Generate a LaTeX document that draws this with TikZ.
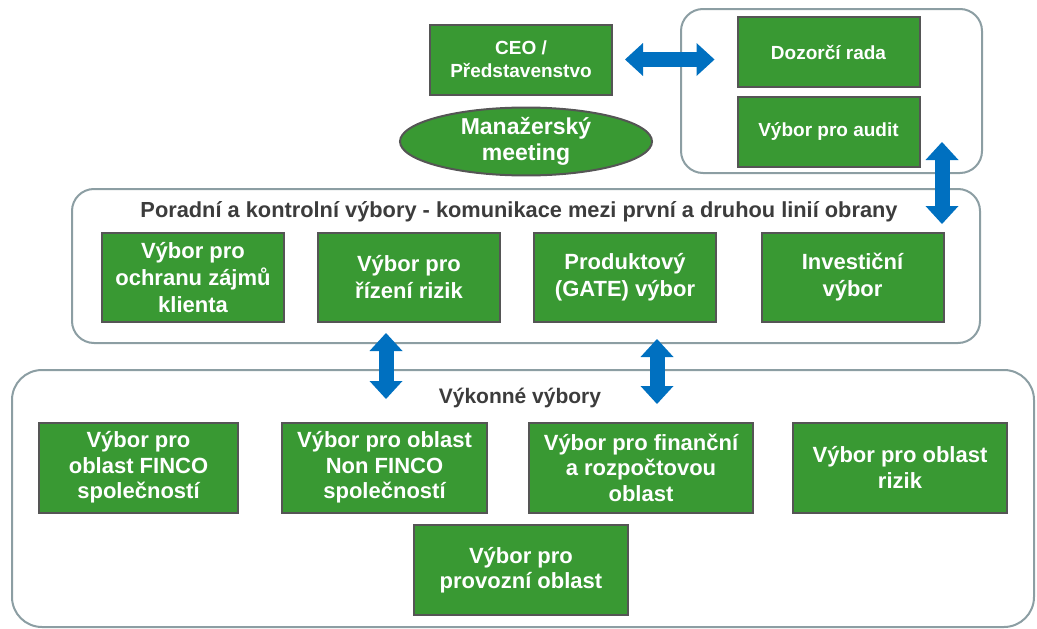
\documentclass[tikz,border=0pt]{standalone}
\usepackage{fontspec}
\setmainfont{Liberation Sans}
\usetikzlibrary{arrows.meta,shapes.geometric}
\definecolor{boxgreen}{RGB}{57,153,51}
\definecolor{boxedge}{RGB}{85,85,85}
\definecolor{grpedge}{RGB}{140,158,163}
\definecolor{arrblue}{RGB}{0,112,192}
\definecolor{titlegray}{RGB}{60,60,60}
\begin{document}
\begin{tikzpicture}[x=1pt,y=-1pt,
  gbox/.style={draw=boxedge, line width=2pt, fill=boxgreen, text=white, align=center, inner sep=0pt},
  topbox/.style={gbox, minimum width=182pt, minimum height=70pt, font=\fontsize{19}{23}\selectfont\bfseries},
  midbox/.style={gbox, minimum width=182pt, minimum height=89pt, font=\fontsize{22}{27}\selectfont\bfseries},
  lowbox/.style={gbox, minimum height=90pt, font=\fontsize{22}{25.5}\selectfont\bfseries},
  grp/.style={draw=grpedge, line width=2pt, inner sep=0pt},
  grptitle/.style={text=titlegray, inner sep=0pt, font=\fontsize{21}{25}\selectfont\bfseries},
  tipshape/.tip={Triangle[width=33pt,length=18pt,line width=0pt]},
  bigarrow/.style={draw=arrblue, line width=15pt, tipshape-tipshape}
]
\useasboundingbox (0,0) rectangle (1037,629);

% group frames
\node[grp, rounded corners=22pt, minimum width=301pt, minimum height=164pt] (rg) at (831.5,91) {};
\node[grp, rounded corners=22pt, minimum width=908pt, minimum height=154pt] (mg) at (526,266) {};
\node[grp, rounded corners=30pt, minimum width=1022pt, minimum height=257pt] (bg) at (523,498.5) {};

% top level
\node[topbox] (ceo) at (521,59.5) {CEO /\\Představenstvo};
\node[topbox] (dozorci) at (828.5,52) {Dozorčí rada};
\node[topbox] (audit) at (828.5,132) {Výbor pro audit};
\node[ellipse, draw=boxedge, line width=2pt, fill=boxgreen, text=white, align=center, inner sep=0pt,
      minimum width=252pt, minimum height=63pt, font=\fontsize{23}{26}\selectfont\bfseries] (meet) at (526,141.5) {Manažerský\\meeting};

% middle group
\node[grptitle, font=\fontsize{21.8}{25}\selectfont\bfseries] (mtitle) at (519,212) {Poradní a kontrolní výbory - komunikace mezi první a druhou linií obrany};
\node[midbox] (klient) at (193,277.5) {Výbor pro\\ochranu zájmů\\klienta};
\node[midbox] (rizeni) at (409,277.5) {Výbor pro\\řízení rizik};
\node[midbox] (gate) at (625,277.5) {Produktový\\(GATE) výbor};
\node[midbox] (invest) at (852.5,277.5) {Investiční\\výbor};

% bottom group
\node[grptitle] (btitle) at (520,398) {Výkonné výbory};
\node[lowbox, minimum width=199pt] (finco) at (138.5,467.5) {Výbor pro\\oblast FINCO\\společností};
\node[lowbox, minimum width=205pt] (nonfinco) at (384.5,467.5) {Výbor pro oblast\\Non FINCO\\společností};
\node[lowbox, minimum width=224pt] (financni) at (641,467.5) {Výbor pro finanční\\a rozpočtovou\\oblast};
\node[lowbox, minimum width=214pt] (rizik) at (900,467.5) {Výbor pro oblast\\rizik};
\node[lowbox, minimum width=214pt] (provoz) at (521,570) {Výbor pro\\provozní oblast};

% arrows
\draw[bigarrow, shorten <=12pt, shorten >=22pt] (ceo.east) -- (ceo.east -| dozorci.west);
\coordinate (va1) at (942,142);
\coordinate (va2) at (942,224);
\draw[bigarrow] (va1) -- (va2);
\coordinate (lv1) at (386,333);
\coordinate (lv2) at (386,399);
\draw[bigarrow] (lv1) -- (lv2);
\coordinate (rv1) at (657,339);
\coordinate (rv2) at (657,404);
\draw[bigarrow] (rv1) -- (rv2);
\end{tikzpicture}
\end{document}
